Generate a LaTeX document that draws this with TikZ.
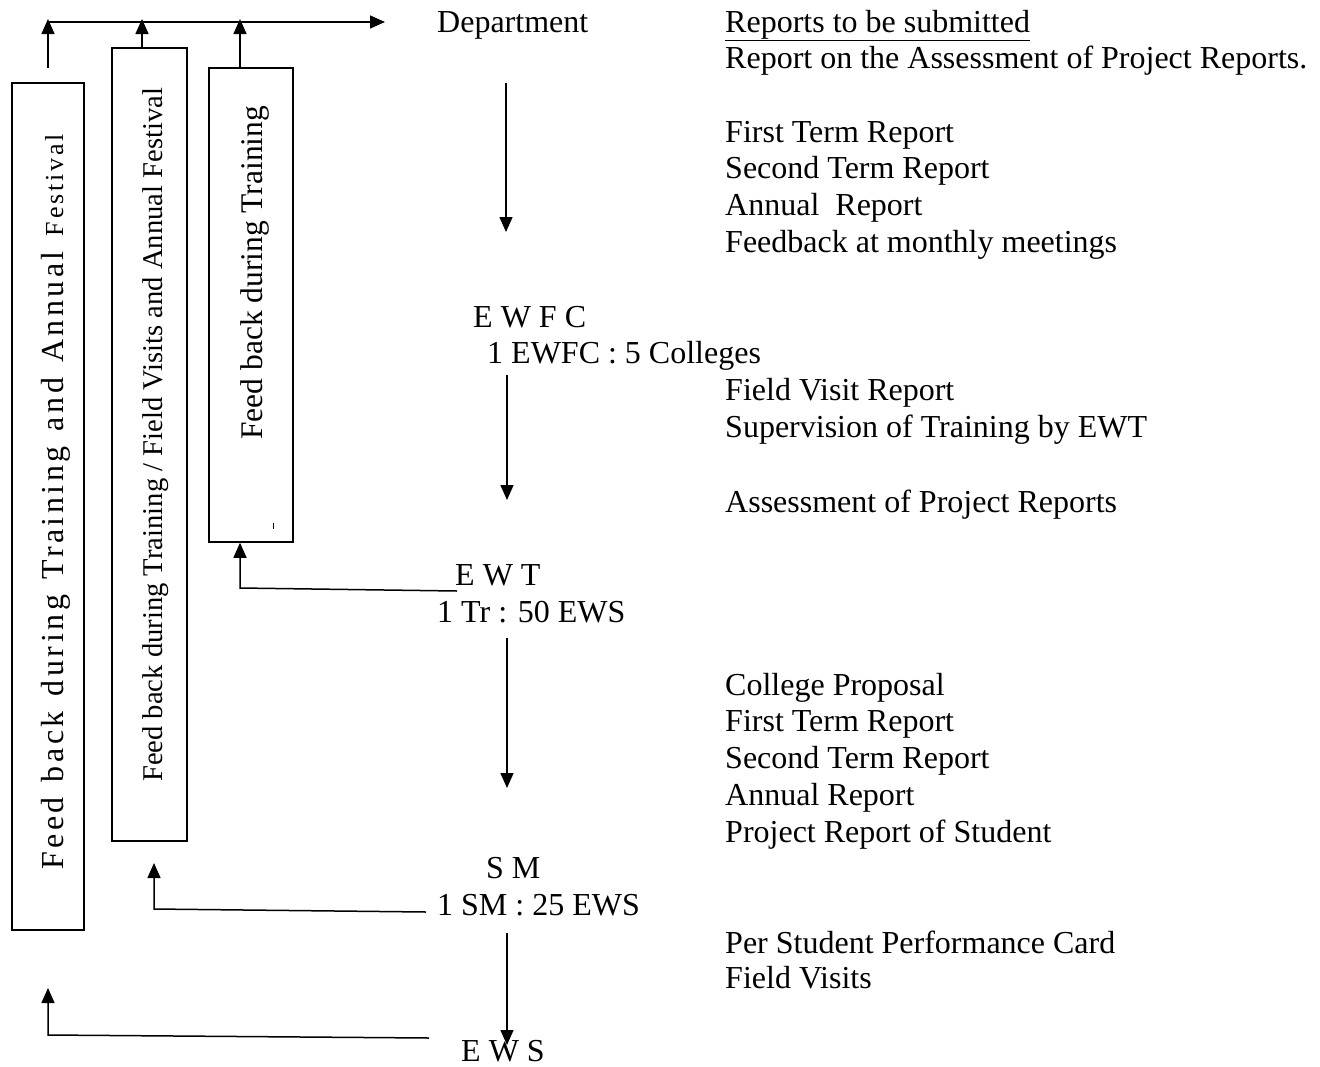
\documentclass[tikz,border=0pt]{standalone}
\usepackage{fontspec}
\setmainfont{Liberation Serif}
\newfontfamily\spacedfont[LetterSpace=11]{Liberation Serif}
\newcommand\widespaces[1]{\spaceskip=#1\relax}
\usetikzlibrary{arrows.meta}
\tikzset{
  txt/.style={inner sep=0pt, anchor=base west, font=\fontsize{32}{38}\selectfont},
  ln/.style={line width=1.5pt},
  arr/.style={ln, -{Triangle[length=15pt,width=13pt]}},
  fbbox/.style={draw, line width=1.5pt, inner sep=0pt},
  vtxt/.style={inner sep=0pt, anchor=base west, rotate=90}
}
\begin{document}
\begin{tikzpicture}[x=1pt,y=-1pt]
\useasboundingbox (0,0) rectangle (1320,1066);
% feedback boxes
\node[fbbox, minimum width=72pt, minimum height=847pt] (b1) at (48,506.5) {};
\node[fbbox, minimum width=75pt, minimum height=793pt] (b2) at (149.5,444.5) {};
\node[fbbox, minimum width=84pt, minimum height=474pt] (b3) at (251,305) {};
\node[vtxt, font=\fontsize{32}{38}\spacedfont] (t1) at (63,870) {\widespaces{15pt}Feed back during Training and Annual {\fontsize{26}{31}\selectfont\widespaces{12pt}Festival}};
\node[vtxt, font=\fontsize{28.6}{35}\selectfont] (t2) at (162,782) {Feed back during Training / Field Visits and Annual Festival};
\node[vtxt, font=\fontsize{31.5}{38}\selectfont] (t3) at (262,440) {Feed back during Training};
\draw[line width=0.8pt] (273,523) -- (273,529);
% top collector line
\coordinate (u1) at (48,68);
\coordinate (u1t) at (48,19);
\coordinate (u2) at (142,48);
\coordinate (u2t) at (142,19);
\coordinate (u3) at (240,68);
\coordinate (u3t) at (240,19);
\coordinate (topL) at (48,22);
\coordinate (topR) at (385,22);
\draw[arr] (topL) -- (topR);
\draw[arr] (u1) -- (u1t);
\draw[arr] (u2) -- (u2t);
\draw[arr] (u3) -- (u3t);
% centre column
\node[txt] (dep) at (437,32) {Department};
\node[txt] (ewfc) at (473,327) {E W F C};
\node[txt] (ewfcr) at (487,363) {1 EWFC : 5 Colleges};
\node[txt] (ewt) at (455,585) {E W T};
\node[txt] (ewtr) at (437,622) {1 Tr : 50 EWS};
\node[txt] (sm) at (486,878) {S M};
\node[txt] (smr) at (437,915) {1 SM : 25 EWS};
\node[txt] (ews) at (461,1061) {E W S};
% down arrows
\coordinate (d1s) at (506,83);  \coordinate (d1e) at (506,232);
\coordinate (d2s) at (507,375); \coordinate (d2e) at (507,500);
\coordinate (d3s) at (507,638); \coordinate (d3e) at (507,788);
\coordinate (d4s) at (507,933); \coordinate (d4e) at (507,1045);
\draw[arr] (d1s) -- (d1e);
\draw[arr] (d2s) -- (d2e);
\draw[arr] (d3s) -- (d3e);
\draw[arr] (d4s) -- (d4e);
% feedback connectors
\coordinate (f1s) at (457,591); \coordinate (f1c) at (240,588);
\draw[arr] (f1s) -- (f1c) -- (b3.south -| f1c);
\coordinate (f2s) at (426,912); \coordinate (f2c) at (154,909); \coordinate (f2e) at (154,863);
\draw[arr] (f2s) -- (f2c) -- (f2e);
\coordinate (f3s) at (429,1038); \coordinate (f3c) at (48,1035); \coordinate (f3e) at (48,988);
\draw[arr] (f3s) -- (f3c) -- (f3e);
% right column
\node[txt] (rh) at (725,32) {\underline{Reports to be submitted}};
\node[txt] (r1) at (725,68) {Report on the Assessment of Project Reports.};
\node[txt] (r2) at (725,142) {First Term Report};
\node[txt] (r3) at (725,178) {Second Term Report};
\node[txt] (r4) at (725,215) {Annual\ \ Report};
\node[txt] (r5) at (725,252) {Feedback at monthly meetings};
\node[txt] (r6) at (725,400) {Field Visit Report};
\node[txt] (r7) at (725,437) {Supervision of Training by EWT};
\node[txt] (r8) at (725,512) {Assessment of Project Reports};
\node[txt] (r9) at (725,695) {College Proposal};
\node[txt] (r10) at (725,731) {First Term Report};
\node[txt] (r11) at (725,768) {Second Term Report};
\node[txt] (r12) at (725,805) {Annual Report};
\node[txt] (r13) at (725,842) {Project Report of Student};
\node[txt] (r14) at (725,953) {Per Student Performance Card};
\node[txt] (r15) at (725,988) {Field Visits};
\end{tikzpicture}
\end{document}
